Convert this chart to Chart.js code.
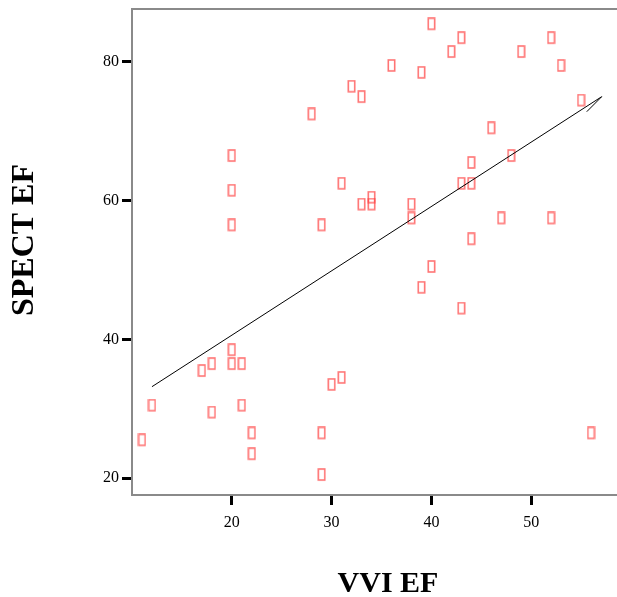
<!DOCTYPE html>
<html>
<head>
<meta charset="utf-8">
<script src="https://cdn.jsdelivr.net/npm/chart.js@4"></script>
<style>
  html, body { margin: 0; padding: 0; background: #fff; }
  canvas { display: block; }
</style>
</head>
<body>
<canvas id="c" width="617" height="597"></canvas>
<script>
// ---- data ----
const vviEF   = [11, 12, 17, 18, 18, 20, 20, 20, 20, 20, 21, 21, 22, 22,
                 28, 29, 29, 29, 30, 31, 31,
                 32, 33, 33, 34, 34, 36, 38, 38, 39, 39,
                 40, 40, 42, 43, 43, 43, 44, 44, 44, 46, 47, 48, 49,
                 52, 52, 53, 55, 56];
const spectEF = [25, 30, 35, 36, 29, 66, 61, 56, 38, 36, 36, 30, 26, 23,
                 72, 56, 26, 20, 33, 62, 34,
                 76, 74.5, 59, 60, 59, 79, 59, 57, 78, 47,
                 85, 50, 81, 83, 62, 44, 65, 62, 54, 70, 57, 66, 81,
                 83, 57, 79, 74, 26];
const fitX = [12, 57.07, 55.57];
const fitY = [33.17, 75.0, 72.83];
const xTicks = [20, 30, 40, 50];
const yTicks = [20, 40, 60, 80];
const xTitle = 'VVI EF';
const yTitle = 'SPECT EF';

// marker: small outlined box (like a missing-glyph box), drawn above its baseline
function makeMarker() {
  const m = document.createElement('canvas');
  m.width = 9; m.height = 20;
  const g = m.getContext('2d');
  g.strokeStyle = 'rgba(255, 70, 70, 0.75)';
  g.lineWidth = 1.6;
  g.strokeRect(1.3, 1, 6.4, 11);
  return m;
}
const marker = makeMarker();

const points = vviEF.map((x, i) => ({ x: x, y: spectEF[i] }));
const fit = fitX.map((x, i) => ({ x: x, y: fitY[i] }));

const serif = '"Liberation Serif", "Times New Roman", serif';

const decor = {
  id: 'decor',
  afterDraw(chart) {
    const ctx = chart.ctx, a = chart.chartArea;
    ctx.save();
    // top frame line
    ctx.strokeStyle = '#8a8a8a';
    ctx.lineWidth = 2;
    ctx.beginPath();
    ctx.moveTo(a.left - 1, a.top);
    ctx.lineTo(a.right, a.top);
    ctx.stroke();
    // titles
    ctx.fillStyle = '#000';
    ctx.font = 'bold 30px ' + serif;
    ctx.textAlign = 'center';
    ctx.textBaseline = 'alphabetic';
    ctx.fillText(xTitle, 388, 592);
    ctx.translate(33, 240);
    ctx.rotate(-Math.PI / 2);
    ctx.font = 'bold 32px ' + serif;
    ctx.fillText(yTitle, 0, 0);
    ctx.restore();
  }
};

new Chart(document.getElementById('c'), {
  type: 'scatter',
  data: {
    datasets: [
      {
        data: points,
        pointStyle: marker,
        pointRadius: 6,
        pointHoverRadius: 6,
        showLine: false,
        order: 2
      },
      {
        data: fit,
        showLine: true,
        borderColor: '#000',
        borderWidth: 1,
        pointRadius: 0,
        pointHoverRadius: 0,
        fill: false,
        tension: 0,
        order: 1
      }
    ]
  },
  options: {
    responsive: false,
    animation: false,
    devicePixelRatio: 1,
    layout: { autoPadding: false, padding: { top: 9, left: 0, right: 0, bottom: 0 } },
    plugins: { legend: { display: false }, tooltip: { enabled: false } },
    scales: {
      x: {
        type: 'linear',
        min: 10,
        max: 58.6,
        afterFit(s) { s.height = 102; s.paddingLeft = 0; s.paddingRight = 0; },
        afterBuildTicks(s) { s.ticks = xTicks.map(v => ({ value: v })); },
        grid: {
          drawOnChartArea: false,
          drawTicks: true,
          tickLength: 10,
          tickWidth: 3,
          tickColor: '#000'
        },
        border: { display: true, color: '#8a8a8a', width: 2 },
        ticks: {
          color: '#000',
          font: { family: serif, size: 16 },
          padding: 8,
          maxRotation: 0,
          autoSkip: false
        }
      },
      y: {
        type: 'linear',
        min: 17.55,
        max: 87.64,
        afterFit(s) { s.width = 132; s.paddingTop = 0; s.paddingBottom = 0; },
        afterBuildTicks(s) { s.ticks = yTicks.map(v => ({ value: v })); },
        grid: {
          drawOnChartArea: false,
          drawTicks: true,
          tickLength: 10,
          tickWidth: 3,
          tickColor: '#000'
        },
        border: { display: true, color: '#8a8a8a', width: 2 },
        ticks: {
          color: '#000',
          font: { family: serif, size: 16 },
          padding: 3,
          autoSkip: false
        }
      }
    }
  },
  plugins: [decor]
});
</script>
</body>
</html>
